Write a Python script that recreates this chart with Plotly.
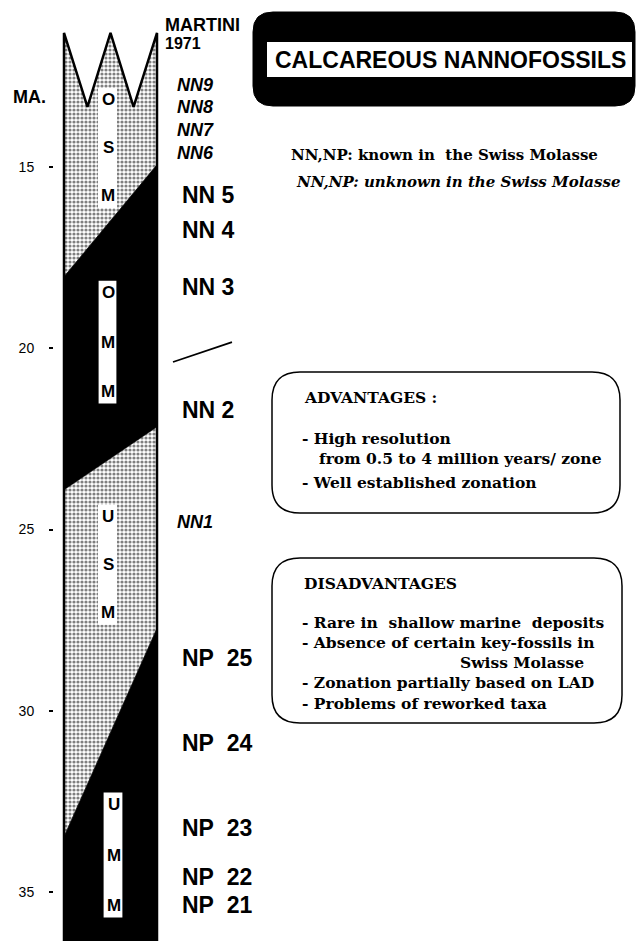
import plotly.graph_objects as go

# ---------------- data ----------------
tick_ages = [15, 20, 25, 30, 35]
tick_labels = ["15", "20", "25", "30", "35"]

zone_names = ["NN9", "NN8", "NN7", "NN6", "NN 5", "NN 4", "NN 3", "NN 2", "NN1",
              "NP  25", "NP  24", "NP  23", "NP  22", "NP  21"]
zone_ages = [12.74, 13.34, 13.98, 14.61, 15.77, 16.74, 18.31, 21.70, 24.79,
             28.54, 30.89, 33.23, 34.59, 35.36]
zone_known = [False, False, False, False, True, True, True, True, False,
              True, True, True, True, True]

formation_names = ["OSM", "OMM", "USM", "UMM"]
formation_marine = [False, True, False, True]
boundary_left = [18.03, 23.91, 33.48]
boundary_right = [14.94, 22.17, 27.73]
label_box_top = [12.82, 18.12, 24.32, 32.24]
label_box_base = [16.13, 21.54, 27.63, 35.72]
column_top_age = 11.30
column_notch_age = 13.34
hiatus_ages = [20.38, 19.83]

# ---------------- layout constants ----------------
W, H = 636, 941
AGE_TOP, AGE_BOT = 10.393, 36.352
COL_L, COL_R = 64, 157
SANS = "Liberation Sans, Arial, sans-serif"
SERIF = "DejaVu Serif, serif"


def py(px):
    return 1 - px / H


fig = go.Figure()

bottom = AGE_BOT + 1
zig_x = [COL_L, (COL_L * 3 + COL_R) / 4 + 0.2, (COL_L + COL_R) / 2, (COL_L + COL_R * 3) / 4 - 0.2, COL_R]
zig_y = [column_top_age, column_notch_age, column_top_age, column_notch_age, column_top_age]

stipple = dict(shape=".", size=4, solidity=0.5, fgcolor="black", bgcolor="white")

for i, name in enumerate(formation_names):
    if i == 0:
        xs = zig_x + [COL_R, COL_L]
        ys = zig_y + [boundary_right[0], boundary_left[0]]
    else:
        top_l, top_r = boundary_left[i - 1], boundary_right[i - 1]
        if i < len(formation_names) - 1:
            bl, br = boundary_left[i], boundary_right[i]
        else:
            bl, br = bottom, bottom
        xs = [COL_L, COL_R, COL_R, COL_L]
        ys = [top_l, top_r, br, bl]
    xs = xs + [xs[0]]
    ys = ys + [ys[0]]
    if formation_marine[i]:
        fig.add_trace(go.Scatter(x=xs, y=ys, mode="lines", fill="toself",
                                 fillcolor="black", line=dict(color="black", width=0.5),
                                 hoverinfo="skip", showlegend=False))
    else:
        fig.add_trace(go.Scatter(x=xs, y=ys, mode="lines", fill="toself",
                                 fillcolor="white", fillpattern=stipple,
                                 line=dict(color="black", width=0.5),
                                 hoverinfo="skip", showlegend=False))

# column outline
fig.add_trace(go.Scatter(x=[COL_L] + zig_x + [COL_R], y=[bottom] + zig_y + [bottom],
                         mode="lines", line=dict(color="black", width=2.5),
                         hoverinfo="skip", showlegend=False))

# hiatus slash
fig.add_trace(go.Scatter(x=[173, 232], y=hiatus_ages, mode="lines",
                         line=dict(color="black", width=1.8),
                         hoverinfo="skip", showlegend=False))

shapes = []
annotations = []


def ann(x, y, text, size, family=SANS, xanchor="left", yref="paper"):
    return dict(x=x, y=y, xref="x", yref=yref, xanchor=xanchor, yanchor="middle",
                text=text, showarrow=False, font=dict(family=family, size=size, color="black"))


# formation label boxes + letters
for i, name in enumerate(formation_names):
    x0, x1 = (98, 117) if i < 3 else (103, 123)
    shapes.append(dict(type="rect", xref="x", yref="y", x0=x0, x1=x1,
                       y0=label_box_top[i], y1=label_box_base[i],
                       fillcolor="white",
                       line=dict(color="black", width=1.2 if formation_marine[i] else 0)))
    h = label_box_base[i] - label_box_top[i]
    for k, frac in enumerate([0.1, 0.5, 0.9]):
        annotations.append(ann((x0 + x1) / 2 + 0.5, label_box_top[i] + frac * h,
                               "<b>%s</b>" % name[k], 17, xanchor="center", yref="y"))

# zone labels
for name, age, known in zip(zone_names, zone_ages, zone_known):
    txt = name.replace(" ", "\u00a0")
    if known:
        annotations.append(ann(180, age, "<b>%s</b>" % txt, 23, yref="y"))
    else:
        annotations.append(ann(175, age, "<b><i>%s</i></b>" % txt, 18, yref="y"))

# header texts
annotations += [
    ann(163, py(25), "<b>MARTINI</b>", 18),
    ann(163, py(43), "<b>1971</b>", 16),
    ann(11, py(97), "<b>MA.</b>", 18),
]


def rounded(x0, x1, y0, y1, r):
    # x in data px (x axis is 1:1), y in px converted to paper
    ry = r / H
    Y0, Y1 = py(y0), py(y1)
    return (f"M {x0 + r},{Y0} L {x1 - r},{Y0} Q {x1},{Y0} {x1},{Y0 - ry} "
            f"L {x1},{Y1 + ry} Q {x1},{Y1} {x1 - r},{Y1} L {x0 + r},{Y1} "
            f"Q {x0},{Y1} {x0},{Y1 + ry} L {x0},{Y0 - ry} Q {x0},{Y0} {x0 + r},{Y0} Z")


# title box
shapes.append(dict(type="path", xref="x", yref="paper", path=rounded(253, 635, 12, 106, 20),
                   fillcolor="black", line=dict(color="black", width=1)))
shapes.append(dict(type="rect", xref="x", yref="paper", x0=267, x1=632, y0=py(77), y1=py(42),
                   fillcolor="white", line=dict(width=0)))
annotations.append(ann(450, py(60), "<b>CALCAREOUS NANNOFOSSILS</b>", 23, xanchor="center"))

# legend lines
annotations += [
    ann(289, py(155), "<b>NN,NP: known in\u00a0 the Swiss Molasse</b>", 15, family=SERIF),
    ann(294, py(182), "<b><i>NN,NP: unknown in the Swiss Molasse</i></b>", 15, family=SERIF),
]

# advantages box
shapes.append(dict(type="path", xref="x", yref="paper", path=rounded(272, 620, 372, 513, 28),
                   fillcolor="rgba(0,0,0,0)", line=dict(color="black", width=1.5)))
adv_lines = [("ADVANTAGES :", 302, 397), ("- High resolution", 300, 438),
             ("from 0.5 to 4 million years/ zone", 317, 458), ("- Well established zonation", 300, 482)]
for t, x, y in adv_lines:
    annotations.append(ann(x, py(y), "<b>%s</b>" % t, 15.5, family=SERIF))

# disadvantages box
shapes.append(dict(type="path", xref="x", yref="paper", path=rounded(272, 622, 558, 723, 28),
                   fillcolor="rgba(0,0,0,0)", line=dict(color="black", width=1.5)))
dis_lines = [("DISADVANTAGES", 302, 583), ("- Rare in\u00a0 shallow marine\u00a0 deposits", 300, 622),
             ("- Absence of certain key-fossils in", 300, 642), ("Swiss Molasse", 458, 662),
             ("- Zonation partially based on LAD", 300, 682), ("- Problems of reworked taxa", 300, 703)]
for t, x, y in dis_lines:
    annotations.append(ann(x, py(y), "<b>%s</b>" % t, 15.5, family=SERIF))

fig.update_layout(
    width=W, height=H,
    margin=dict(l=0, r=0, t=0, b=0),
    paper_bgcolor="white", plot_bgcolor="white",
    shapes=shapes, annotations=annotations,
    xaxis=dict(range=[0, W], visible=False, fixedrange=True),
    yaxis=dict(range=[AGE_BOT, AGE_TOP], anchor="free", position=53 / W,
               tickvals=tick_ages, ticktext=tick_labels, ticks="outside", ticklen=4,
               tickwidth=1.5, tickcolor="black", showgrid=False, zeroline=False,
               showline=False, ticklabelstandoff=12, fixedrange=True,
               tickfont=dict(family=SANS, size=14, color="black")),
)

fig.write_html("out.html", config={"displayModeBar": False},
               post_script="document.body.style.margin='0';document.body.style.overflow='hidden';")
